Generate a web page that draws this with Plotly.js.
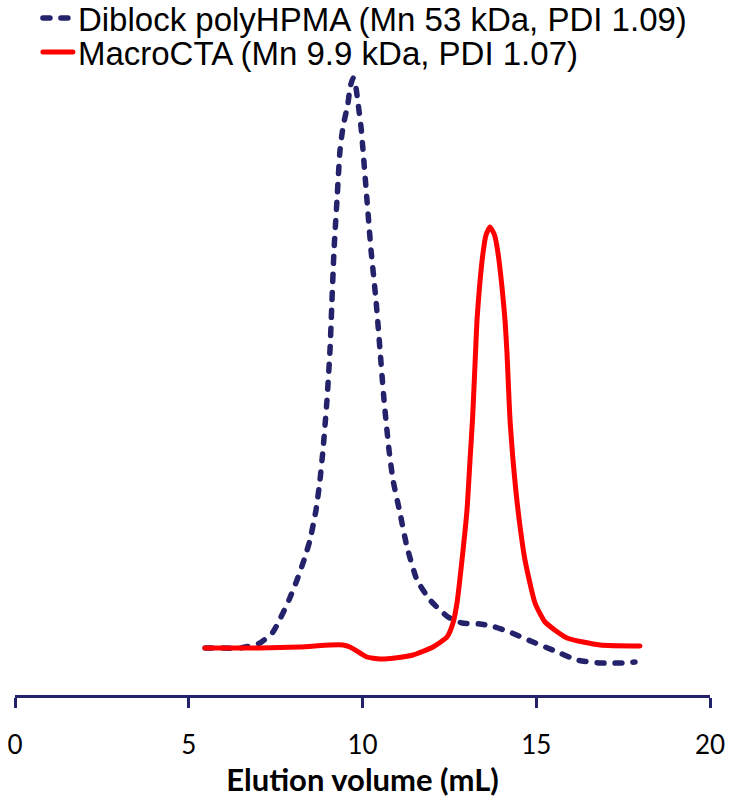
<!DOCTYPE html>
<html>
<head>
<meta charset="utf-8">
<script src="https://cdn.plot.ly/plotly-3.0.1.min.js"></script>
<style>
html,body{margin:0;padding:0;background:#fff;}
#chart{width:732px;height:809px;}
path.js-line{stroke-linecap:round;stroke-linejoin:round;}
</style>
</head>
<body>
<div id="chart"></div>
<script>
// Elution volume (mL) and detector response (arbitrary units)
const diblockName = "Diblock polyHPMA (Mn 53 kDa, PDI 1.09)";
const diblockX = [5.47,5.90,6.475,7.050,7.424,7.655,7.885,8.115,8.317,8.489,8.662,8.777,8.863,8.978,9.065,9.122,9.180,9.266,9.353,9.439,9.583,9.640,9.727,9.813,9.871,9.957,10.014,10.129,10.245,10.388,10.504,10.619,10.763,10.878,11.079,11.281,11.568,11.942,12.460,12.863,13.381,13.813,14.302,14.906,15.540,16.173,16.835,17.410,17.842];
const diblockY = [47,47,47,52,63,78,95,115,135,155,185,215,245,295,345,395,445,495,545,568,592,607,617,607,592,568,545,495,445,395,345,295,245,215,182,148,115,95,78,72,71,68,62,53,44,35,32,32,33];

const macroName = "MacroCTA (Mn 9.9 kDa, PDI 1.07)";
const macroX = [5.468,7.050,8.201,9.065,9.439,9.640,9.928,10.129,10.504,10.935,11.453,12.029,12.432,12.604,12.719,12.863,13.007,13.094,13.165,13.209,13.252,13.295,13.367,13.468,13.554,13.669,13.799,13.899,14.014,14.101,14.158,14.201,14.245,14.331,14.475,14.676,14.964,15.252,15.885,16.835,17.986];
const macroY = [47,47,48,50,50,48,42,38,36,37,40,48,58,72,92,135,185,235,275,308,342,375,408,442,460,468,460,442,408,375,342,308,275,235,185,135,92,73,57,50,49];

const xTicks = [0,5,10,15,20];
const xTitle = "Elution volume (mL)";

const navy = "#23226b";
const red = "#ff0000";

const traces = [
  {x: diblockX, y: diblockY, name: diblockName, type: "scatter", mode: "lines",
   line: {color: navy, width: 5.5, dash: "7px,11px", shape: "spline", smoothing: 0.5}},
  {x: macroX, y: macroY, name: macroName, type: "scatter", mode: "lines",
   line: {color: red, width: 5, shape: "spline", smoothing: 0.5}}
];

const layout = {
  width: 732, height: 809,
  margin: {l: 15, r: 22, t: 0, b: 114},
  paper_bgcolor: "#fff", plot_bgcolor: "#fff",
  showlegend: true,
  legend: {x: 0.033, y: 1.0, xanchor: "left", yanchor: "top", bgcolor: "rgba(0,0,0,0)",
           font: {family: "Liberation Sans, Arial, sans-serif", size: 33, color: "#000"},
           itemwidth: 30, tracegroupgap: 0},
  xaxis: {range: [0, 20], tickvals: xTicks, ticktext: xTicks.map(String),
          showline: true, linecolor: navy, linewidth: 3,
          ticks: "outside", ticklen: 10, tickwidth: 3, tickcolor: navy,
          showgrid: false, zeroline: false, ticklabelstandoff: 15,
          tickfont: {family: "Lato, Open Sans, sans-serif", size: 26, color: "#000"},
          title: {text: "<b>" + xTitle + "</b>", standoff: 6,
                  font: {family: "Lato, Open Sans, sans-serif", size: 31, color: "#000"}}},
  yaxis: {range: [0, 695], visible: false, showgrid: false, zeroline: false}
};

Plotly.newPlot("chart", traces, layout, {displayModeBar: false, staticPlot: true}).then(function () {
  // tighten legend row spacing to match the reference (rows ~34px apart, first row centred ~18px)
  const items = document.querySelectorAll("#chart .legend .traces");
  const rowY = [0, 34];
  const lg = document.querySelector("#chart .legend");
  if (lg) {
    const m = /translate\(([-\d.]+)[ ,]+([-\d.]+)\)/.exec(lg.getAttribute("transform") || "");
    if (m) lg.setAttribute("transform", "translate(" + m[1] + "," + (parseFloat(m[2]) - 10) + ")");
  }
  items.forEach(function (el, i) {
    const m = /translate\(([-\d.]+)[ ,]+([-\d.]+)\)/.exec(el.getAttribute("transform") || "");
    if (m && i < rowY.length) {
      const y0 = parseFloat(/translate\(([-\d.]+)[ ,]+([-\d.]+)\)/.exec(items[0].getAttribute("transform"))[2]);
      el.setAttribute("transform", "translate(" + m[1] + "," + (y0 + rowY[i]) + ")");
    }
  });
});
</script>
</body>
</html>
